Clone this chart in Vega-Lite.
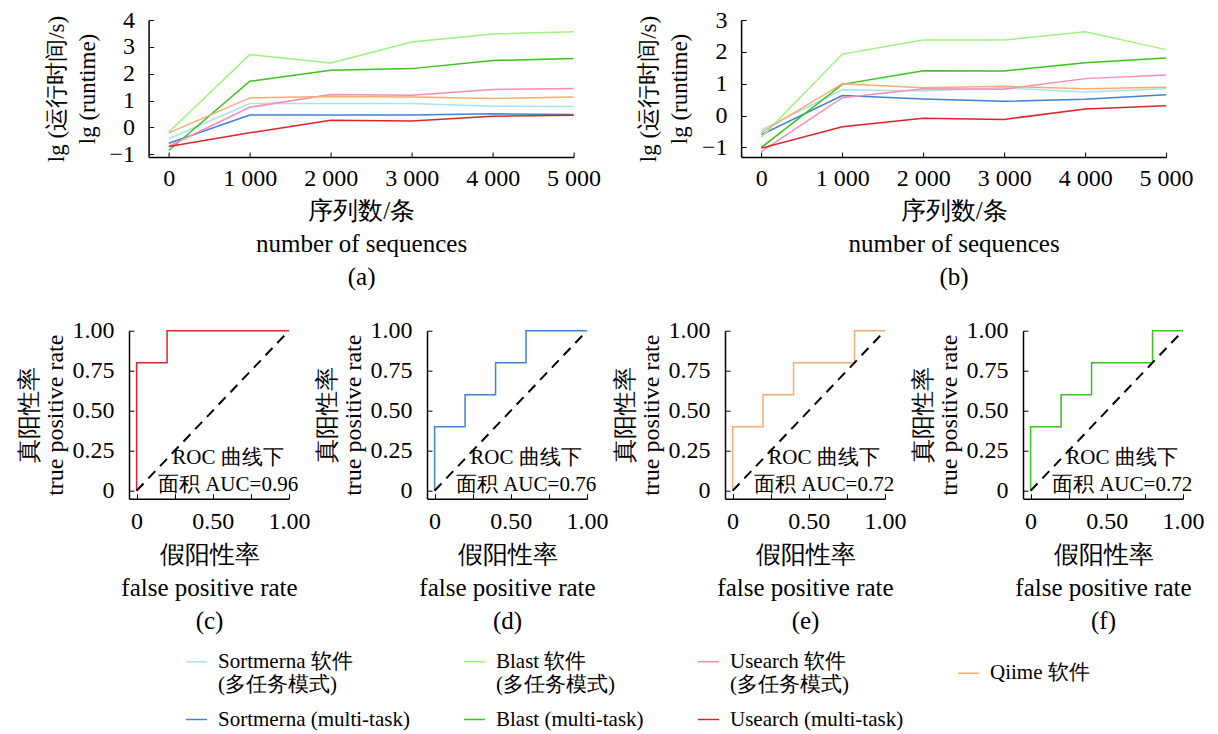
{
  "$schema": "https://vega.github.io/schema/vega-lite/v6.json",
  "background": "white",
  "padding": {"left": 17, "top": 8, "right": 5, "bottom": 5},
  "bounds": "flush",
  "spacing": 310.7,
  "config": {
    "font": "Liberation Serif",
    "view": {"stroke": null},
    "axis": {
      "grid": false,
      "domainColor": "black",
      "domainWidth": 1.5,
      "tickColor": "black",
      "tickWidth": 1,
      "tickSize": -5,
      "labelOverlap": false,
      "labelFlush": false,
      "labelFont": "Liberation Serif",
      "labelFontSize": 24,
      "labelColor": "black",
      "titleFont": "Liberation Serif",
      "titleFontSize": 25,
      "titleFontWeight": "normal",
      "titleColor": "black"
    },
    "legend": {
      "orient": "none",
      "legendX": 56,
      "legendY": 630,
      "columns": 4,
      "direction": "horizontal",
      "symbolType": "stroke",
      "symbolStrokeWidth": 1.5,
      "symbolSize": 450,
      "labelFont": "Liberation Serif",
      "labelFontSize": 21,
      "labelColor": "black",
      "labelLimit": 0,
      "columnPadding": 50,
      "rowPadding": 13,
      "labelOffset": 10
    }
  },
  "datasets": {
    "runtime": [
      {"panel": "a", "series": "Sortmerna 软件 (多任务模式)", "n": 0, "lg": -0.42},
      {"panel": "a", "series": "Sortmerna 软件 (多任务模式)", "n": 1000, "lg": 0.89},
      {"panel": "a", "series": "Sortmerna 软件 (多任务模式)", "n": 2000, "lg": 0.89},
      {"panel": "a", "series": "Sortmerna 软件 (多任务模式)", "n": 3000, "lg": 0.89},
      {"panel": "a", "series": "Sortmerna 软件 (多任务模式)", "n": 4000, "lg": 0.79},
      {"panel": "a", "series": "Sortmerna 软件 (多任务模式)", "n": 5000, "lg": 0.78},
      {"panel": "a", "series": "Sortmerna (multi-task)", "n": 0, "lg": -0.59},
      {"panel": "a", "series": "Sortmerna (multi-task)", "n": 1000, "lg": 0.46},
      {"panel": "a", "series": "Sortmerna (multi-task)", "n": 2000, "lg": 0.46},
      {"panel": "a", "series": "Sortmerna (multi-task)", "n": 3000, "lg": 0.46},
      {"panel": "a", "series": "Sortmerna (multi-task)", "n": 4000, "lg": 0.51},
      {"panel": "a", "series": "Sortmerna (multi-task)", "n": 5000, "lg": 0.48},
      {"panel": "a", "series": "Blast 软件 (多任务模式)", "n": 0, "lg": -0.17},
      {"panel": "a", "series": "Blast 软件 (多任务模式)", "n": 1000, "lg": 2.71},
      {"panel": "a", "series": "Blast 软件 (多任务模式)", "n": 2000, "lg": 2.4},
      {"panel": "a", "series": "Blast 软件 (多任务模式)", "n": 3000, "lg": 3.18},
      {"panel": "a", "series": "Blast 软件 (多任务模式)", "n": 4000, "lg": 3.48},
      {"panel": "a", "series": "Blast 软件 (多任务模式)", "n": 5000, "lg": 3.56},
      {"panel": "a", "series": "Blast (multi-task)", "n": 0, "lg": -0.86},
      {"panel": "a", "series": "Blast (multi-task)", "n": 1000, "lg": 1.72},
      {"panel": "a", "series": "Blast (multi-task)", "n": 2000, "lg": 2.13},
      {"panel": "a", "series": "Blast (multi-task)", "n": 3000, "lg": 2.19},
      {"panel": "a", "series": "Blast (multi-task)", "n": 4000, "lg": 2.49},
      {"panel": "a", "series": "Blast (multi-task)", "n": 5000, "lg": 2.57},
      {"panel": "a", "series": "Usearch 软件 (多任务模式)", "n": 0, "lg": -0.7},
      {"panel": "a", "series": "Usearch 软件 (多任务模式)", "n": 1000, "lg": 0.75},
      {"panel": "a", "series": "Usearch 软件 (多任务模式)", "n": 2000, "lg": 1.23},
      {"panel": "a", "series": "Usearch 软件 (多任务模式)", "n": 3000, "lg": 1.2},
      {"panel": "a", "series": "Usearch 软件 (多任务模式)", "n": 4000, "lg": 1.41},
      {"panel": "a", "series": "Usearch 软件 (多任务模式)", "n": 5000, "lg": 1.45},
      {"panel": "a", "series": "Usearch (multi-task)", "n": 0, "lg": -0.71},
      {"panel": "a", "series": "Usearch (multi-task)", "n": 1000, "lg": -0.2},
      {"panel": "a", "series": "Usearch (multi-task)", "n": 2000, "lg": 0.27},
      {"panel": "a", "series": "Usearch (multi-task)", "n": 3000, "lg": 0.24},
      {"panel": "a", "series": "Usearch (multi-task)", "n": 4000, "lg": 0.42},
      {"panel": "a", "series": "Usearch (multi-task)", "n": 5000, "lg": 0.45},
      {"panel": "a", "series": "Qiime 软件", "n": 0, "lg": -0.2},
      {"panel": "a", "series": "Qiime 软件", "n": 1000, "lg": 1.1},
      {"panel": "a", "series": "Qiime 软件", "n": 2000, "lg": 1.15},
      {"panel": "a", "series": "Qiime 软件", "n": 3000, "lg": 1.13},
      {"panel": "a", "series": "Qiime 软件", "n": 4000, "lg": 1.08},
      {"panel": "a", "series": "Qiime 软件", "n": 5000, "lg": 1.13},
      {"panel": "b", "series": "Sortmerna 软件 (多任务模式)", "n": 0, "lg": -0.45},
      {"panel": "b", "series": "Sortmerna 软件 (多任务模式)", "n": 1000, "lg": 0.81},
      {"panel": "b", "series": "Sortmerna 软件 (多任务模式)", "n": 2000, "lg": 0.77},
      {"panel": "b", "series": "Sortmerna 软件 (多任务模式)", "n": 3000, "lg": 0.87},
      {"panel": "b", "series": "Sortmerna 软件 (多任务模式)", "n": 4000, "lg": 0.74},
      {"panel": "b", "series": "Sortmerna 软件 (多任务模式)", "n": 5000, "lg": 0.84},
      {"panel": "b", "series": "Sortmerna (multi-task)", "n": 0, "lg": -0.6},
      {"panel": "b", "series": "Sortmerna (multi-task)", "n": 1000, "lg": 0.63},
      {"panel": "b", "series": "Sortmerna (multi-task)", "n": 2000, "lg": 0.52},
      {"panel": "b", "series": "Sortmerna (multi-task)", "n": 3000, "lg": 0.45},
      {"panel": "b", "series": "Sortmerna (multi-task)", "n": 4000, "lg": 0.51},
      {"panel": "b", "series": "Sortmerna (multi-task)", "n": 5000, "lg": 0.65},
      {"panel": "b", "series": "Blast 软件 (多任务模式)", "n": 0, "lg": -0.68},
      {"panel": "b", "series": "Blast 软件 (多任务模式)", "n": 1000, "lg": 1.93},
      {"panel": "b", "series": "Blast 软件 (多任务模式)", "n": 2000, "lg": 2.37},
      {"panel": "b", "series": "Blast 软件 (多任务模式)", "n": 3000, "lg": 2.37},
      {"panel": "b", "series": "Blast 软件 (多任务模式)", "n": 4000, "lg": 2.63},
      {"panel": "b", "series": "Blast 软件 (多任务模式)", "n": 5000, "lg": 2.07},
      {"panel": "b", "series": "Blast (multi-task)", "n": 0, "lg": -1.0},
      {"panel": "b", "series": "Blast (multi-task)", "n": 1000, "lg": 0.98},
      {"panel": "b", "series": "Blast (multi-task)", "n": 2000, "lg": 1.41},
      {"panel": "b", "series": "Blast (multi-task)", "n": 3000, "lg": 1.4},
      {"panel": "b", "series": "Blast (multi-task)", "n": 4000, "lg": 1.66},
      {"panel": "b", "series": "Blast (multi-task)", "n": 5000, "lg": 1.81},
      {"panel": "b", "series": "Usearch 软件 (多任务模式)", "n": 0, "lg": -1.13},
      {"panel": "b", "series": "Usearch 软件 (多任务模式)", "n": 1000, "lg": 0.56},
      {"panel": "b", "series": "Usearch 软件 (多任务模式)", "n": 2000, "lg": 0.84},
      {"panel": "b", "series": "Usearch 软件 (多任务模式)", "n": 3000, "lg": 0.83},
      {"panel": "b", "series": "Usearch 软件 (多任务模式)", "n": 4000, "lg": 1.16},
      {"panel": "b", "series": "Usearch 软件 (多任务模式)", "n": 5000, "lg": 1.27},
      {"panel": "b", "series": "Usearch (multi-task)", "n": 0, "lg": -1.02},
      {"panel": "b", "series": "Usearch (multi-task)", "n": 1000, "lg": -0.35},
      {"panel": "b", "series": "Usearch (multi-task)", "n": 2000, "lg": -0.08},
      {"panel": "b", "series": "Usearch (multi-task)", "n": 3000, "lg": -0.12},
      {"panel": "b", "series": "Usearch (multi-task)", "n": 4000, "lg": 0.21},
      {"panel": "b", "series": "Usearch (multi-task)", "n": 5000, "lg": 0.31},
      {"panel": "b", "series": "Qiime 软件", "n": 0, "lg": -0.53},
      {"panel": "b", "series": "Qiime 软件", "n": 1000, "lg": 1.0},
      {"panel": "b", "series": "Qiime 软件", "n": 2000, "lg": 0.87},
      {"panel": "b", "series": "Qiime 软件", "n": 3000, "lg": 0.92},
      {"panel": "b", "series": "Qiime 软件", "n": 4000, "lg": 0.84},
      {"panel": "b", "series": "Qiime 软件", "n": 5000, "lg": 0.89}
    ],
    "roc": [
      {"panel": "c", "series": "Usearch (multi-task)", "step": 1, "fpr": 0, "tpr": 0},
      {"panel": "c", "series": "Usearch (multi-task)", "step": 2, "fpr": 0, "tpr": 0.8},
      {"panel": "c", "series": "Usearch (multi-task)", "step": 3, "fpr": 0.2, "tpr": 0.8},
      {"panel": "c", "series": "Usearch (multi-task)", "step": 4, "fpr": 0.2, "tpr": 1},
      {"panel": "c", "series": "Usearch (multi-task)", "step": 5, "fpr": 1, "tpr": 1},
      {"panel": "d", "series": "Sortmerna (multi-task)", "step": 1, "fpr": 0, "tpr": 0},
      {"panel": "d", "series": "Sortmerna (multi-task)", "step": 2, "fpr": 0, "tpr": 0.4},
      {"panel": "d", "series": "Sortmerna (multi-task)", "step": 3, "fpr": 0.2, "tpr": 0.4},
      {"panel": "d", "series": "Sortmerna (multi-task)", "step": 4, "fpr": 0.2, "tpr": 0.6},
      {"panel": "d", "series": "Sortmerna (multi-task)", "step": 5, "fpr": 0.4, "tpr": 0.6},
      {"panel": "d", "series": "Sortmerna (multi-task)", "step": 6, "fpr": 0.4, "tpr": 0.8},
      {"panel": "d", "series": "Sortmerna (multi-task)", "step": 7, "fpr": 0.6, "tpr": 0.8},
      {"panel": "d", "series": "Sortmerna (multi-task)", "step": 8, "fpr": 0.6, "tpr": 1},
      {"panel": "d", "series": "Sortmerna (multi-task)", "step": 9, "fpr": 1, "tpr": 1},
      {"panel": "e", "series": "Qiime 软件", "step": 1, "fpr": 0, "tpr": 0},
      {"panel": "e", "series": "Qiime 软件", "step": 2, "fpr": 0, "tpr": 0.4},
      {"panel": "e", "series": "Qiime 软件", "step": 3, "fpr": 0.2, "tpr": 0.4},
      {"panel": "e", "series": "Qiime 软件", "step": 4, "fpr": 0.2, "tpr": 0.6},
      {"panel": "e", "series": "Qiime 软件", "step": 5, "fpr": 0.4, "tpr": 0.6},
      {"panel": "e", "series": "Qiime 软件", "step": 6, "fpr": 0.4, "tpr": 0.8},
      {"panel": "e", "series": "Qiime 软件", "step": 7, "fpr": 0.8, "tpr": 0.8},
      {"panel": "e", "series": "Qiime 软件", "step": 8, "fpr": 0.8, "tpr": 1},
      {"panel": "e", "series": "Qiime 软件", "step": 9, "fpr": 1, "tpr": 1},
      {"panel": "f", "series": "Blast (multi-task)", "step": 1, "fpr": 0, "tpr": 0},
      {"panel": "f", "series": "Blast (multi-task)", "step": 2, "fpr": 0, "tpr": 0.4},
      {"panel": "f", "series": "Blast (multi-task)", "step": 3, "fpr": 0.2, "tpr": 0.4},
      {"panel": "f", "series": "Blast (multi-task)", "step": 4, "fpr": 0.2, "tpr": 0.6},
      {"panel": "f", "series": "Blast (multi-task)", "step": 5, "fpr": 0.4, "tpr": 0.6},
      {"panel": "f", "series": "Blast (multi-task)", "step": 6, "fpr": 0.4, "tpr": 0.8},
      {"panel": "f", "series": "Blast (multi-task)", "step": 7, "fpr": 0.8, "tpr": 0.8},
      {"panel": "f", "series": "Blast (multi-task)", "step": 8, "fpr": 0.8, "tpr": 1},
      {"panel": "f", "series": "Blast (multi-task)", "step": 9, "fpr": 1, "tpr": 1}
    ],
    "diag": [
      {"fpr": 0, "tpr": 0},
      {"fpr": 1, "tpr": 1}
    ],
    "auc": [
      {"panel": "c", "fpr": 0.6, "tpr": 0.205, "label": "ROC 曲线下\n面积 AUC=0.96"},
      {"panel": "d", "fpr": 0.6, "tpr": 0.205, "label": "ROC 曲线下\n面积 AUC=0.76"},
      {"panel": "e", "fpr": 0.6, "tpr": 0.205, "label": "ROC 曲线下\n面积 AUC=0.72"},
      {"panel": "f", "fpr": 0.6, "tpr": 0.205, "label": "ROC 曲线下\n面积 AUC=0.72"}
    ]
  },
  "vconcat": [
    {
      "bounds": "flush",
      "spacing": 18.6,
      "hconcat": [
        {"width": 1, "height": 1, "data": {"values": []}, "mark": {"type": "point", "opacity": 0}},
        {
          "bounds": "flush",
          "spacing": 167.5,
          "hconcat": [
            {
              "width": 425,
              "height": 137,
              "data": {"name": "runtime"},
              "transform": [{"filter": "datum.panel === 'a'"}],
              "mark": {"type": "line", "strokeWidth": 1.5},
              "encoding": {
                "x": {"field": "n", "type": "quantitative",
                  "scale": {"domain": [-250, 5000], "nice": false, "zero": false},
                  "axis": {"values": [0, 1000, 2000, 3000, 4000, 5000], "labelPadding": 14,
                    "labelExpr": "datum.value === 0 ? '0' : (datum.value / 1000) + ' 000'",
                    "title": ["序列数/条", "number of sequences", "(a)"], "titleLineHeight": 33, "titlePadding": 8}},
                "y": {"field": "lg", "type": "quantitative",
                  "scale": {"domain": [-1.1, 4], "nice": false, "zero": false},
                  "axis": {"values": [-1, 0, 1, 2, 3, 4], "format": "d", "labelPadding": 19,
                    "title": ["lg (运行时间/s)", "lg (runtime)"], "titleFontSize": 23, "titleLineHeight": 31, "titlePadding": 10}},
                "color": {"field": "series", "type": "nominal", "title": null,
                  "scale": {
                    "domain": ["Sortmerna 软件 (多任务模式)", "Blast 软件 (多任务模式)", "Usearch 软件 (多任务模式)", "Qiime 软件", "Sortmerna (multi-task)", "Blast (multi-task)", "Usearch (multi-task)"],
                    "range": ["#a6e3ea", "#9ff27c", "#f98bb6", "#f8ab72", "#3b84d6", "#3cc31a", "#e0222a"]},
                  "legend": {"labelExpr": "indexof(datum.label, ' (多') > 0 ? [slice(datum.label, 0, indexof(datum.label, ' (多')), slice(datum.label, indexof(datum.label, ' (多') + 1)] : datum.label"}}
              }
            },
            {
              "width": 425,
              "height": 137,
              "data": {"name": "runtime"},
              "transform": [{"filter": "datum.panel === 'b'"}],
              "mark": {"type": "line", "strokeWidth": 1.5},
              "encoding": {
                "x": {"field": "n", "type": "quantitative",
                  "scale": {"domain": [-250, 5000], "nice": false, "zero": false},
                  "axis": {"values": [0, 1000, 2000, 3000, 4000, 5000], "labelPadding": 14,
                    "labelExpr": "datum.value === 0 ? '0' : (datum.value / 1000) + ' 000'",
                    "title": ["序列数/条", "number of sequences", "(b)"], "titleLineHeight": 33, "titlePadding": 8}},
                "y": {"field": "lg", "type": "quantitative",
                  "scale": {"domain": [-1.3, 3], "nice": false, "zero": false},
                  "axis": {"values": [-1, 0, 1, 2, 3], "format": "d", "labelPadding": 19,
                    "title": ["lg (运行时间/s)", "lg (runtime)"], "titleFontSize": 23, "titleLineHeight": 31, "titlePadding": 10}},
                "color": {"field": "series", "type": "nominal", "title": null,
                  "scale": {
                    "domain": ["Sortmerna 软件 (多任务模式)", "Blast 软件 (多任务模式)", "Usearch 软件 (多任务模式)", "Qiime 软件", "Sortmerna (multi-task)", "Blast (multi-task)", "Usearch (multi-task)"],
                    "range": ["#a6e3ea", "#9ff27c", "#f98bb6", "#f8ab72", "#3b84d6", "#3cc31a", "#e0222a"]},
                  "legend": {"labelExpr": "indexof(datum.label, ' (多') > 0 ? [slice(datum.label, 0, indexof(datum.label, ' (多')), slice(datum.label, indexof(datum.label, ' (多') + 1)] : datum.label"}}
              }
            }
          ]
        }
      ]
    },
    {
      "bounds": "flush",
      "spacing": 138,
      "hconcat": [
        {
          "width": 160, "height": 168,
          "encoding": {
            "x": {"field": "fpr", "type": "quantitative",
              "scale": {"domain": [-0.05, 1], "nice": false, "zero": false},
              "axis": {"values": [0, 0.25, 0.5, 0.75, 1], "labelPadding": 16,
                "labelExpr": "datum.value === 0 ? '0' : (datum.value === 0.5 || datum.value === 1) ? format(datum.value, '.2f') : ''",
                "title": ["假阳性率", "false positive rate", "(c)"], "titleLineHeight": 33, "titlePadding": 9}},
            "y": {"field": "tpr", "type": "quantitative",
              "scale": {"domain": [-0.05, 1], "nice": false, "zero": false},
              "axis": {"values": [0, 0.25, 0.5, 0.75, 1], "labelPadding": 20,
                "labelExpr": "datum.value === 0 ? '0' : format(datum.value, '.2f')",
                "title": ["真阳性率", "true positive rate"], "titleFontSize": 24, "titleLineHeight": 26, "titlePadding": 5}}
          },
          "layer": [
            {"data": {"name": "roc"}, "transform": [{"filter": "datum.panel === 'c'"}],
              "mark": {"type": "line", "strokeWidth": 1.5},
              "encoding": {"order": {"field": "step", "type": "quantitative"},
                "color": {"field": "series", "type": "nominal", "title": null,
                  "scale": {
                    "domain": ["Sortmerna 软件 (多任务模式)", "Blast 软件 (多任务模式)", "Usearch 软件 (多任务模式)", "Qiime 软件", "Sortmerna (multi-task)", "Blast (multi-task)", "Usearch (multi-task)"],
                    "range": ["#a6e3ea", "#9ff27c", "#f98bb6", "#f8ab72", "#3b84d6", "#3cc31a", "#e0222a"]},
                  "legend": {"labelExpr": "indexof(datum.label, ' (多') > 0 ? [slice(datum.label, 0, indexof(datum.label, ' (多')), slice(datum.label, indexof(datum.label, ' (多') + 1)] : datum.label"}}}},
            {"data": {"name": "diag"}, "mark": {"type": "line", "color": "black", "strokeWidth": 2, "strokeDash": [10, 7]}, "encoding": {}},
            {"data": {"name": "auc"}, "transform": [{"filter": "datum.panel === 'c'"}],
              "mark": {"type": "text", "font": "Liberation Serif", "fontSize": 21, "lineBreak": "\n", "lineHeight": 27, "align": "center", "baseline": "middle", "color": "black"},
              "encoding": {"text": {"field": "label"}}}
          ]
        },
        {
          "width": 160, "height": 168,
          "encoding": {
            "x": {"field": "fpr", "type": "quantitative",
              "scale": {"domain": [-0.05, 1], "nice": false, "zero": false},
              "axis": {"values": [0, 0.25, 0.5, 0.75, 1], "labelPadding": 16,
                "labelExpr": "datum.value === 0 ? '0' : (datum.value === 0.5 || datum.value === 1) ? format(datum.value, '.2f') : ''",
                "title": ["假阳性率", "false positive rate", "(d)"], "titleLineHeight": 33, "titlePadding": 9}},
            "y": {"field": "tpr", "type": "quantitative",
              "scale": {"domain": [-0.05, 1], "nice": false, "zero": false},
              "axis": {"values": [0, 0.25, 0.5, 0.75, 1], "labelPadding": 20,
                "labelExpr": "datum.value === 0 ? '0' : format(datum.value, '.2f')",
                "title": ["真阳性率", "true positive rate"], "titleFontSize": 24, "titleLineHeight": 26, "titlePadding": 5}}
          },
          "layer": [
            {"data": {"name": "roc"}, "transform": [{"filter": "datum.panel === 'd'"}],
              "mark": {"type": "line", "strokeWidth": 1.5},
              "encoding": {"order": {"field": "step", "type": "quantitative"},
                "color": {"field": "series", "type": "nominal", "title": null,
                  "scale": {
                    "domain": ["Sortmerna 软件 (多任务模式)", "Blast 软件 (多任务模式)", "Usearch 软件 (多任务模式)", "Qiime 软件", "Sortmerna (multi-task)", "Blast (multi-task)", "Usearch (multi-task)"],
                    "range": ["#a6e3ea", "#9ff27c", "#f98bb6", "#f8ab72", "#3b84d6", "#3cc31a", "#e0222a"]},
                  "legend": {"labelExpr": "indexof(datum.label, ' (多') > 0 ? [slice(datum.label, 0, indexof(datum.label, ' (多')), slice(datum.label, indexof(datum.label, ' (多') + 1)] : datum.label"}}}},
            {"data": {"name": "diag"}, "mark": {"type": "line", "color": "black", "strokeWidth": 2, "strokeDash": [10, 7]}, "encoding": {}},
            {"data": {"name": "auc"}, "transform": [{"filter": "datum.panel === 'd'"}],
              "mark": {"type": "text", "font": "Liberation Serif", "fontSize": 21, "lineBreak": "\n", "lineHeight": 27, "align": "center", "baseline": "middle", "color": "black"},
              "encoding": {"text": {"field": "label"}}}
          ]
        },
        {
          "width": 160, "height": 168,
          "encoding": {
            "x": {"field": "fpr", "type": "quantitative",
              "scale": {"domain": [-0.05, 1], "nice": false, "zero": false},
              "axis": {"values": [0, 0.25, 0.5, 0.75, 1], "labelPadding": 16,
                "labelExpr": "datum.value === 0 ? '0' : (datum.value === 0.5 || datum.value === 1) ? format(datum.value, '.2f') : ''",
                "title": ["假阳性率", "false positive rate", "(e)"], "titleLineHeight": 33, "titlePadding": 9}},
            "y": {"field": "tpr", "type": "quantitative",
              "scale": {"domain": [-0.05, 1], "nice": false, "zero": false},
              "axis": {"values": [0, 0.25, 0.5, 0.75, 1], "labelPadding": 20,
                "labelExpr": "datum.value === 0 ? '0' : format(datum.value, '.2f')",
                "title": ["真阳性率", "true positive rate"], "titleFontSize": 24, "titleLineHeight": 26, "titlePadding": 5}}
          },
          "layer": [
            {"data": {"name": "roc"}, "transform": [{"filter": "datum.panel === 'e'"}],
              "mark": {"type": "line", "strokeWidth": 1.5},
              "encoding": {"order": {"field": "step", "type": "quantitative"},
                "color": {"field": "series", "type": "nominal", "title": null,
                  "scale": {
                    "domain": ["Sortmerna 软件 (多任务模式)", "Blast 软件 (多任务模式)", "Usearch 软件 (多任务模式)", "Qiime 软件", "Sortmerna (multi-task)", "Blast (multi-task)", "Usearch (multi-task)"],
                    "range": ["#a6e3ea", "#9ff27c", "#f98bb6", "#f8ab72", "#3b84d6", "#3cc31a", "#e0222a"]},
                  "legend": {"labelExpr": "indexof(datum.label, ' (多') > 0 ? [slice(datum.label, 0, indexof(datum.label, ' (多')), slice(datum.label, indexof(datum.label, ' (多') + 1)] : datum.label"}}}},
            {"data": {"name": "diag"}, "mark": {"type": "line", "color": "black", "strokeWidth": 2, "strokeDash": [10, 7]}, "encoding": {}},
            {"data": {"name": "auc"}, "transform": [{"filter": "datum.panel === 'e'"}],
              "mark": {"type": "text", "font": "Liberation Serif", "fontSize": 21, "lineBreak": "\n", "lineHeight": 27, "align": "center", "baseline": "middle", "color": "black"},
              "encoding": {"text": {"field": "label"}}}
          ]
        },
        {
          "width": 160, "height": 168,
          "encoding": {
            "x": {"field": "fpr", "type": "quantitative",
              "scale": {"domain": [-0.05, 1], "nice": false, "zero": false},
              "axis": {"values": [0, 0.25, 0.5, 0.75, 1], "labelPadding": 16,
                "labelExpr": "datum.value === 0 ? '0' : (datum.value === 0.5 || datum.value === 1) ? format(datum.value, '.2f') : ''",
                "title": ["假阳性率", "false positive rate", "(f)"], "titleLineHeight": 33, "titlePadding": 9}},
            "y": {"field": "tpr", "type": "quantitative",
              "scale": {"domain": [-0.05, 1], "nice": false, "zero": false},
              "axis": {"values": [0, 0.25, 0.5, 0.75, 1], "labelPadding": 20,
                "labelExpr": "datum.value === 0 ? '0' : format(datum.value, '.2f')",
                "title": ["真阳性率", "true positive rate"], "titleFontSize": 24, "titleLineHeight": 26, "titlePadding": 5}}
          },
          "layer": [
            {"data": {"name": "roc"}, "transform": [{"filter": "datum.panel === 'f'"}],
              "mark": {"type": "line", "strokeWidth": 1.5},
              "encoding": {"order": {"field": "step", "type": "quantitative"},
                "color": {"field": "series", "type": "nominal", "title": null,
                  "scale": {
                    "domain": ["Sortmerna 软件 (多任务模式)", "Blast 软件 (多任务模式)", "Usearch 软件 (多任务模式)", "Qiime 软件", "Sortmerna (multi-task)", "Blast (multi-task)", "Usearch (multi-task)"],
                    "range": ["#a6e3ea", "#9ff27c", "#f98bb6", "#f8ab72", "#3b84d6", "#3cc31a", "#e0222a"]},
                  "legend": {"labelExpr": "indexof(datum.label, ' (多') > 0 ? [slice(datum.label, 0, indexof(datum.label, ' (多')), slice(datum.label, indexof(datum.label, ' (多') + 1)] : datum.label"}}}},
            {"data": {"name": "diag"}, "mark": {"type": "line", "color": "black", "strokeWidth": 2, "strokeDash": [10, 7]}, "encoding": {}},
            {"data": {"name": "auc"}, "transform": [{"filter": "datum.panel === 'f'"}],
              "mark": {"type": "text", "font": "Liberation Serif", "fontSize": 21, "lineBreak": "\n", "lineHeight": 27, "align": "center", "baseline": "middle", "color": "black"},
              "encoding": {"text": {"field": "label"}}}
          ]
        }
      ]
    }
  ]
}
